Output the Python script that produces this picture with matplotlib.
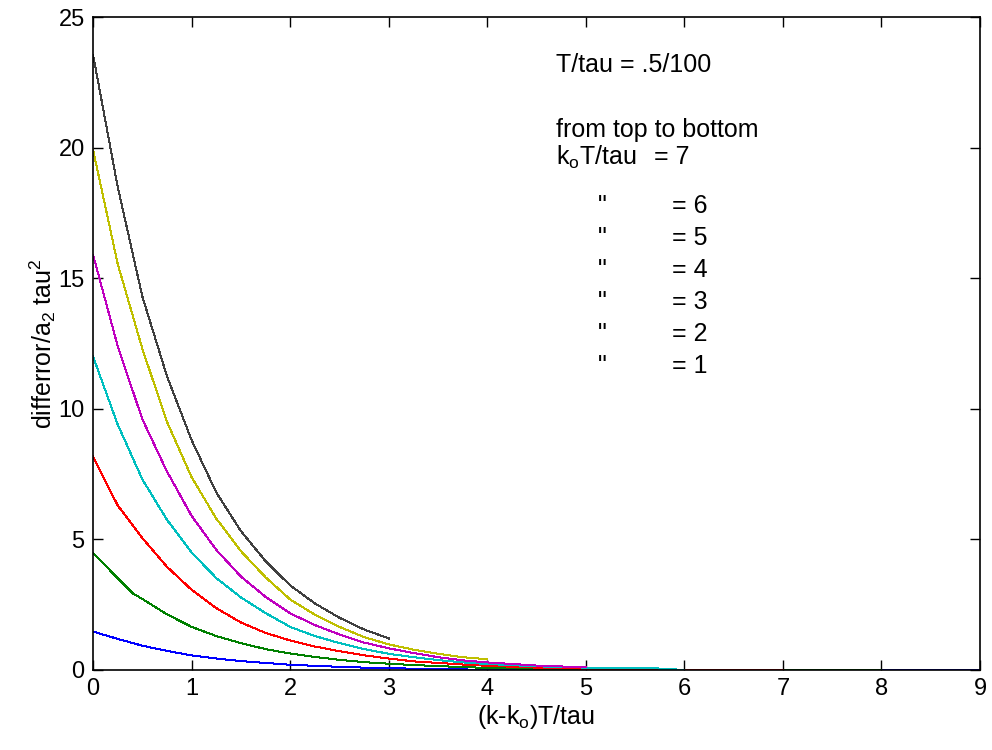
import numpy as np
import matplotlib
matplotlib.use("Agg")
import matplotlib.pyplot as plt

plt.rcParams['font.family'] = ['Liberation Sans', 'DejaVu Sans']
plt.rcParams['mathtext.fontset'] = 'custom'
plt.rcParams['mathtext.rm'] = 'Liberation Sans'
plt.rcParams['mathtext.it'] = 'Liberation Sans'

x_pts = [0, 0.25, 0.5, 0.75, 1.0, 1.25, 1.5, 1.75, 2.0, 2.25, 2.5, 2.75, 3.0,
         3.25, 3.5, 3.75, 4.0, 4.5, 5.0, 5.5, 5.72, 6.0, 7.0, 8.0, 9.0]

# ko*T/tau = 1 .. 7, each curve runs to x = 10 - ko*T/tau
y_k1 = [1.47, 1.19, 0.93, 0.73, 0.56, 0.44, 0.34, 0.27, 0.2, 0.16, 0.12, 0.09, 0.07,
        0.05, 0.04, 0.02, 0.01, 0.0, 0.0, 0.0, 0.0, 0.0, 0.0, 0.0, 0.0]
y_k2 = [4.47, 3.52, 2.72, 2.13, 1.65, 1.3, 1.03, 0.8, 0.63, 0.5, 0.39, 0.3, 0.24,
        0.19, 0.15, 0.11, 0.08, 0.04, 0.01, 0.0, 0.0, 0.0, 0.0, 0.0]
y_k3 = [8.17, 6.3, 5.05, 3.95, 3.07, 2.37, 1.82, 1.42, 1.13, 0.9, 0.72, 0.56, 0.44,
        0.33, 0.27, 0.21, 0.16, 0.09, 0.05, 0.02, 0.01, 0.0, 0.0]
y_k4 = [12.0, 9.4, 7.3, 5.75, 4.5, 3.52, 2.78, 2.18, 1.65, 1.3, 1.03, 0.8, 0.62,
        0.49, 0.38, 0.29, 0.23, 0.14, 0.09, 0.07, 0.06, 0.0]
y_k5 = [15.9, 12.4, 9.6, 7.6, 5.9, 4.6, 3.58, 2.8, 2.17, 1.72, 1.36, 1.05, 0.83,
        0.65, 0.49, 0.37, 0.29, 0.17, 0.1]
y_k6 = [19.92, 15.55, 12.3, 9.5, 7.38, 5.8, 4.55, 3.55, 2.7, 2.12, 1.65, 1.26, 0.98,
        0.78, 0.62, 0.49, 0.41]
y_k7 = [23.56, 18.5, 14.3, 11.25, 8.8, 6.8, 5.32, 4.17, 3.24, 2.55, 2.0, 1.55, 1.21]

# green curve has a visible kink near x = 0.4
kink_x, kink_y = 0.4, 2.94

curves = [y_k1, y_k2, y_k3, y_k4, y_k5, y_k6, y_k7]
colors = [(0, 0, 1), (0, 0.5, 0), (1, 0, 0), (0, 0.75, 0.75),
          (0.75, 0, 0.75), (0.75, 0.75, 0), (0.25, 0.25, 0.25)]

fig = plt.figure(figsize=(9.92, 7.5), dpi=100)
ax = fig.add_axes([0.0938, 0.1067, 0.8941, 0.8706])

for i, (ys, c) in enumerate(zip(curves, colors)):
    xs = list(x_pts[:len(ys)])
    ys = list(ys)
    if i == 1:
        xs.insert(2, kink_x)
        ys.insert(2, kink_y)
    ax.plot(xs, ys, color=c, lw=0.72, antialiased=False)

ax.set_xlim(0, 9)
ax.set_ylim(0, 25)
ax.set_xticks(range(0, 10))
ax.set_yticks(range(0, 26, 5))
ax.tick_params(direction='in', top=True, right=True, length=7, width=1,
               labelsize=17, pad=6)
for s in ax.spines.values():
    s.set_linewidth(1.2)

ax.set_xlabel('(k-k$_{\\mathrm{o}}$)T/tau', fontsize=18, labelpad=2)
ax.set_ylabel('differror/a$_{\\mathrm{2}}$ tau$^{\\mathrm{2}}$', fontsize=18, labelpad=0)

# annotation block
fs = 18
ax.text(4.70, 23.16, 'T/tau = .5/100', fontsize=fs, va='center')
ax.text(4.70, 20.67, 'from top to bottom', fontsize=fs, va='center')
ax.text(4.70, 19.64, 'k$_{\\mathrm{o}}$T/tau', fontsize=fs, va='center')
ax.text(5.69, 19.64, '= 7', fontsize=fs, va='center')
rows_y = [17.76, 16.54, 15.31, 14.09, 12.86, 11.64]
rows_v = [6, 5, 4, 3, 2, 1]
for yy, v in zip(rows_y, rows_v):
    ax.text(5.12, yy, '"', fontsize=fs, va='center')
    ax.text(5.87, yy, '= %d' % v, fontsize=fs, va='center')

fig.savefig('out.png', dpi=100)
